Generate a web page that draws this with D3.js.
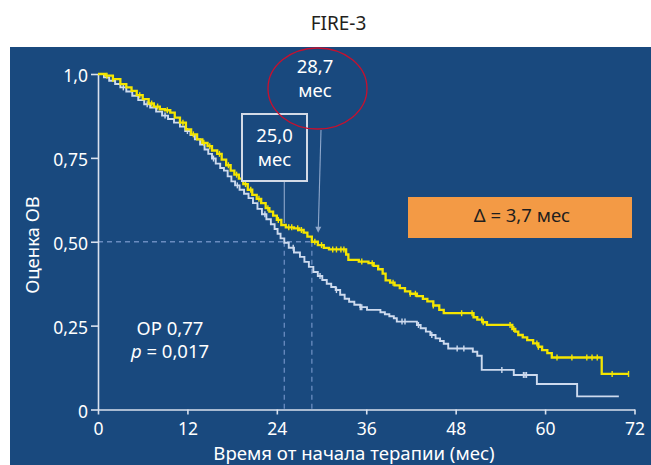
<!DOCTYPE html>
<html>
<head>
<meta charset="utf-8">
<script src="https://cdn.jsdelivr.net/npm/d3@7"></script>
<style>
  html, body { margin: 0; padding: 0; background: #ffffff; }
  svg { display: block; font-family: "Noto Sans", "Open Sans", sans-serif; }
</style>
</head>
<body>
<svg id="chart" width="651" height="465"></svg>
<script>
// Kaplan–Meier overall survival, FIRE-3 trial
const title = "FIRE-3";
const xTicks = [0, 12, 24, 36, 48, 60, 72];
const yTicks = [0, 0.25, 0.5, 0.75, 1.0];
const yTickLabels = ["0", "0,25", "0,50", "0,75", "1,0"];
const xLabel = "Время от начала терапии (мес)";
const yLabel = "Оценка ОВ";

// Cetuximab arm (yellow): [month, survival after the step]
const armCetux = [
  [0, 1.0], [1.0, 0.995], [2.0, 0.985], [3.0, 0.97], [3.8, 0.96], [4.5, 0.95],
  [5.2, 0.937], [6.0, 0.925], [6.8, 0.912], [7.5, 0.903], [8.3, 0.895], [9.0, 0.892],
  [9.7, 0.885], [10.3, 0.87], [11.0, 0.855], [11.8, 0.835], [12.5, 0.82], [13.3, 0.805],
  [14.0, 0.795], [14.7, 0.785], [15.3, 0.772], [16.0, 0.762], [16.6, 0.745], [17.2, 0.728],
  [17.8, 0.712], [18.3, 0.70], [18.9, 0.688], [19.5, 0.672], [20.1, 0.655], [20.7, 0.64],
  [21.3, 0.628], [21.9, 0.615], [22.5, 0.60], [23.0, 0.59], [23.5, 0.578], [24.0, 0.565],
  [24.6, 0.55], [25.2, 0.543], [26.3, 0.54], [27.0, 0.535], [27.6, 0.527], [28.1, 0.515],
  [28.7, 0.50], [29.5, 0.49], [30.3, 0.482], [31.0, 0.477], [33.3, 0.462], [33.6, 0.446],
  [35.0, 0.441], [36.3, 0.436], [37.0, 0.428], [37.6, 0.418], [38.2, 0.405], [38.6, 0.385],
  [39.2, 0.378], [39.8, 0.37], [40.5, 0.362], [41.2, 0.352], [41.9, 0.345], [42.8, 0.338],
  [43.6, 0.33], [44.2, 0.322], [45.0, 0.31], [45.8, 0.297], [46.4, 0.287], [50.4, 0.275],
  [50.9, 0.268], [51.6, 0.26], [52.2, 0.252], [55.6, 0.24], [56.0, 0.232], [56.4, 0.222],
  [57.0, 0.215], [57.6, 0.207], [58.4, 0.197], [59.1, 0.187], [59.6, 0.177], [60.3, 0.168],
  [60.9, 0.155], [67.6, 0.106]
];
const armCetuxEnd = 71.2;
const censorCetux = [
  1.2, 2.0, 5.6, 7.2, 8.0, 9.3, 11.4, 12.8, 14.2, 15.0, 16.3, 17.5, 18.6, 19.8, 20.5,
  21.6, 22.8, 24.2, 25.6, 26.0, 26.8, 27.3, 29.1, 30.0, 31.5, 32.0, 32.6, 33.0,
  35.4, 36.8, 39.6, 41.9, 42.6, 45.0, 48.8, 50.2, 51.5, 51.7, 55.3, 55.8, 58.9, 59.1,
  61.6, 63.6, 65.6, 66.3, 67.0, 69.0, 71.2
];

// Bevacizumab arm (light): [month, survival after the step]
const armBev = [
  [0, 1.0], [0.8, 0.99], [1.5, 0.98], [2.3, 0.97], [3.0, 0.96], [3.8, 0.948], [4.6, 0.935],
  [5.4, 0.922], [6.2, 0.91], [7.0, 0.9], [7.8, 0.888], [8.6, 0.876], [9.4, 0.866],
  [10.2, 0.855], [11.0, 0.843], [11.7, 0.83], [12.4, 0.818], [13.0, 0.805], [13.7, 0.79],
  [14.3, 0.775], [14.8, 0.762], [15.3, 0.748], [15.8, 0.733], [16.4, 0.72], [16.9, 0.712],
  [17.4, 0.695], [17.9, 0.68], [18.4, 0.668], [19.0, 0.655], [19.6, 0.643], [20.2, 0.63],
  [20.8, 0.615], [21.4, 0.598], [22.0, 0.582], [22.6, 0.567], [23.2, 0.552], [23.7, 0.538],
  [24.1, 0.524], [24.5, 0.51], [25.0, 0.497], [25.6, 0.482], [26.3, 0.468], [27.1, 0.455],
  [27.7, 0.44], [28.3, 0.425], [28.9, 0.41], [29.5, 0.398], [30.1, 0.386], [30.7, 0.375],
  [31.3, 0.365], [31.9, 0.356], [32.5, 0.342], [33.1, 0.33], [33.7, 0.321], [34.4, 0.312],
  [35.2, 0.305], [36.1, 0.297], [37.9, 0.29], [38.5, 0.284], [39.1, 0.278], [39.7, 0.272],
  [40.1, 0.262], [42.8, 0.252], [43.3, 0.242], [44.0, 0.232], [44.6, 0.222], [45.3, 0.212],
  [45.9, 0.204], [46.4, 0.196], [47.0, 0.182], [50.3, 0.172], [50.9, 0.16], [51.5, 0.118],
  [55.8, 0.103], [58.9, 0.076], [64.3, 0.039]
];
const armBevEnd = 69.9;
const censorBev = [
  3.4, 6.6, 9.0, 12.0, 15.5, 18.7, 22.4, 26.2, 29.8, 32.0,
  35.2, 35.4, 40.8, 41.2, 43.0, 44.8, 48.2, 49.1, 54.2, 57.1, 57.3, 57.5
];

// Median survival annotations
const medianBev = 25.0;
const medianCetux = 28.7;
const medianBevLabel = ["25,0", "мес"];
const medianCetuxLabel = ["28,7", "мес"];
const deltaLabel = "Δ = 3,7 мес";
const hrLabel = "ОР 0,77";
const pValue = "0,017";

const svg = d3.select("#chart");
const x = d3.scaleLinear().domain([0, 72]).range([98, 634.5]);
const y = d3.scaleLinear().domain([0, 1]).range([409.5, 74]);

// Background panel
svg.append("rect").attr("x", 10).attr("y", 47).attr("width", 641).attr("height", 418)
  .attr("fill", "#19497e");

svg.append("text").attr("x", 338.5).attr("y", 30).attr("text-anchor", "middle")
  .attr("font-size", 19).attr("fill", "#231f20").text(title);

const guide = "#6a8cc0";
// Median guide lines
svg.append("line").attr("x1", x(0)).attr("x2", x(medianCetux))
  .attr("y1", y(0.5)).attr("y2", y(0.5))
  .attr("stroke", guide).attr("stroke-width", 1.3).attr("stroke-dasharray", "5,4");
[medianBev, medianCetux].forEach(m => {
  svg.append("line").attr("x1", x(m)).attr("x2", x(m))
    .attr("y1", y(0.5)).attr("y2", y(0))
    .attr("stroke", guide).attr("stroke-width", 1.3).attr("stroke-dasharray", "5,4");
});

// Axes
const axisColor = "#d9e1ee";
const gx = svg.append("g").attr("transform", `translate(0,${y(0)})`)
  .call(d3.axisBottom(x).tickValues(xTicks).tickFormat(d3.format("d"))
    .tickSize(5).tickSizeOuter(0).tickPadding(8));
const gy = svg.append("g").attr("transform", `translate(${x(0)},0)`)
  .call(d3.axisLeft(y).tickValues(yTicks).tickFormat((d, i) => yTickLabels[i])
    .tickSize(7).tickSizeOuter(0).tickPadding(3));
[gx, gy].forEach(g => {
  g.select(".domain").attr("stroke", axisColor).attr("stroke-width", 1.6);
  g.selectAll(".tick line").attr("stroke", axisColor).attr("stroke-width", 1.6);
  g.selectAll(".tick text").attr("fill", "#ffffff").attr("font-size", 17.5)
    .attr("font-family", "'Noto Sans', sans-serif");
});
gy.selectAll(".tick text").attr("dy", "0.45em");

svg.append("text").attr("x", 354).attr("y", 460).attr("text-anchor", "middle")
  .attr("font-size", 18.6).attr("fill", "#ffffff").text(xLabel);
svg.append("text").attr("transform", "translate(39,245) rotate(-90)")
  .attr("text-anchor", "middle").attr("font-size", 18.5).attr("fill", "#ffffff").text(yLabel);

// Survival curves
function stepAt(data, t) {
  let v = data[0][1];
  for (const d of data) { if (d[0] <= t) v = d[1]; else break; }
  return v;
}
function drawArm(data, end, censor, color, width) {
  const pts = data.concat([[end, data[data.length - 1][1]]]);
  const line = d3.line().x(d => x(d[0])).y(d => y(d[1])).curve(d3.curveStepAfter);
  svg.append("path").datum(pts).attr("d", line)
    .attr("fill", "none").attr("stroke", color).attr("stroke-width", width)
    .attr("stroke-linejoin", "miter");
  svg.append("g").selectAll("line").data(censor).join("line")
    .attr("x1", d => x(d)).attr("x2", d => x(d))
    .attr("y1", d => y(stepAt(data, d)) - 3).attr("y2", d => y(stepAt(data, d)) + 3)
    .attr("stroke", color).attr("stroke-width", 1.4);
}
drawArm(armBev, armBevEnd, censorBev, "#cddaee", 1.9);
drawArm(armCetux, armCetuxEnd, censorCetux, "#f4e500", 2.3);

// Median callouts
const callout = "#8fa8cc";
svg.append("line").attr("x1", x(medianBev)).attr("x2", x(medianBev))
  .attr("y1", 181).attr("y2", y(stepAt(armCetux, medianBev)) - 2)
  .attr("stroke", callout).attr("stroke-width", 1.1);
svg.append("rect").attr("x", 242).attr("y", 114).attr("width", 65).attr("height", 67)
  .attr("fill", "#19497e").attr("stroke", "#d3dae6").attr("stroke-width", 2);
medianBevLabel.forEach((t, i) => {
  svg.append("text").attr("x", 274.5).attr("y", 142 + i * 24).attr("text-anchor", "middle")
    .attr("font-size", 18.5).attr("fill", "#ffffff").text(t);
});

const tipY = y(stepAt(armCetux, medianCetux)) - 9;
svg.append("line").attr("x1", 321).attr("x2", x(medianCetux) + 6.5)
  .attr("y1", 130).attr("y2", tipY - 5)
  .attr("stroke", callout).attr("stroke-width", 1.1);
svg.append("path")
  .attr("d", `M${x(medianCetux) + 3.5},${tipY - 6} L${x(medianCetux) + 9.5},${tipY - 6} L${x(medianCetux) + 6.3},${tipY} Z`)
  .attr("fill", callout);
svg.append("ellipse").attr("cx", 317.5).attr("cy", 88.5).attr("rx", 49.5).attr("ry", 40.5)
  .attr("fill", "none").attr("stroke", "#c8102e").attr("stroke-width", 1.3);
medianCetuxLabel.forEach((t, i) => {
  svg.append("text").attr("x", 315).attr("y", 73 + i * 24).attr("text-anchor", "middle")
    .attr("font-size", 18.5).attr("fill", "#ffffff").text(t);
});

// Difference in medians
svg.append("rect").attr("x", 408).attr("y", 197).attr("width", 224).attr("height", 41)
  .attr("fill", "#f39a45");
svg.append("text").attr("x", 522).attr("y", 222).attr("text-anchor", "middle")
  .attr("font-size", 18.5).attr("fill", "#1e1e1e").text(deltaLabel);

// Hazard ratio
svg.append("text").attr("x", 170).attr("y", 335).attr("text-anchor", "middle")
  .attr("font-size", 18.5).attr("fill", "#ffffff").text(hrLabel);
const pText = svg.append("text").attr("x", 170).attr("y", 358).attr("text-anchor", "middle")
  .attr("font-size", 18.5).attr("fill", "#ffffff");
pText.append("tspan").attr("font-style", "italic").text("p");
pText.append("tspan").text(" = " + pValue);
</script>
</body>
</html>
